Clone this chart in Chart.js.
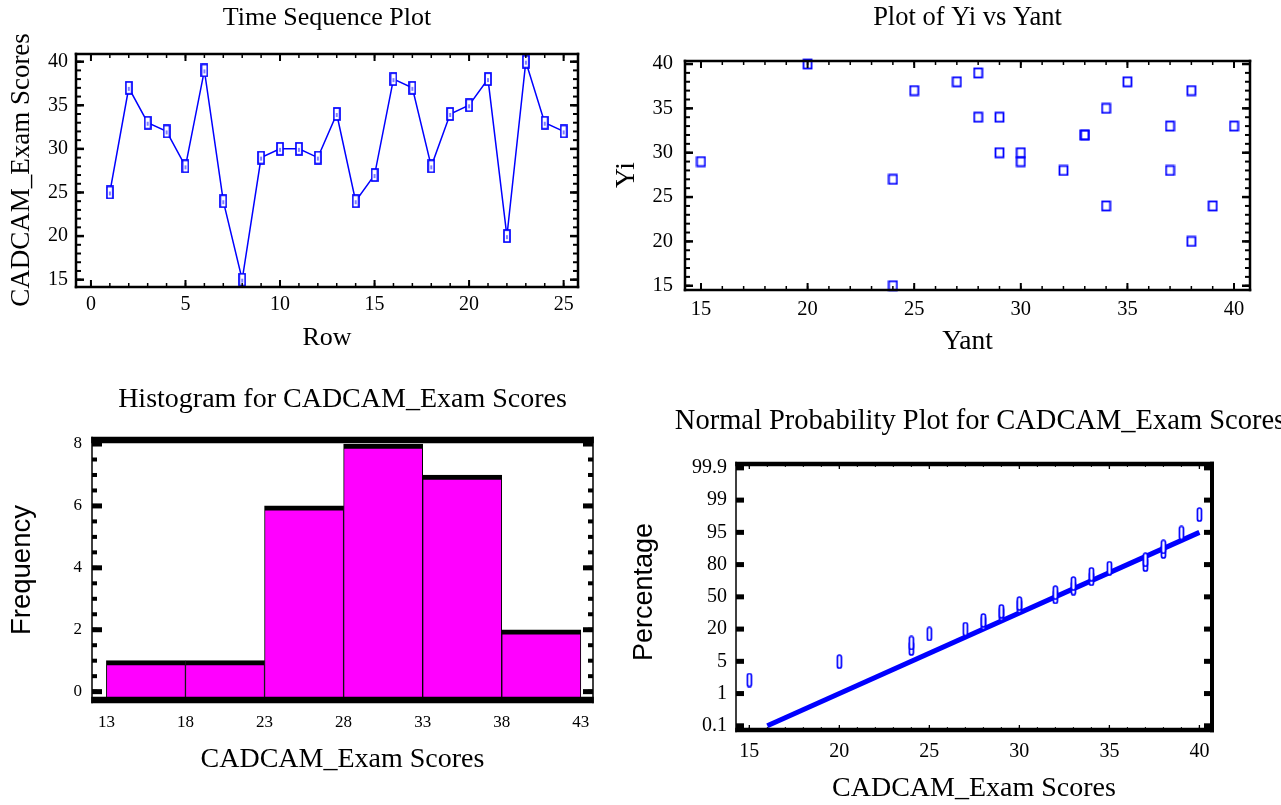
<!DOCTYPE html>
<html>
<head>
<meta charset="utf-8">
<script src="https://cdn.jsdelivr.net/npm/chart.js@4.4.1/dist/chart.umd.min.js"></script>
<style>
html, body { margin: 0; padding: 0; background: #fff; width: 1281px; height: 805px; overflow: hidden; }
canvas { position: absolute; }
</style>
</head>
<body>
<canvas id="seq" width="640" height="380" style="left:0;top:0"></canvas>
<canvas id="lag" width="681" height="380" style="left:600px;top:0"></canvas>
<canvas id="hist" width="620" height="435" style="left:0;top:370px"></canvas>
<canvas id="prob" width="760" height="435" style="left:600px;top:370px"></canvas>
<script>
// data
const rows = [1, 2, 3, 4, 5, 6, 7, 8, 9, 10, 11, 12, 13, 14, 15, 16, 17, 18, 19, 20, 21, 22, 23, 24, 25];
const scores = [25, 37, 33, 32, 28, 39, 24, 15, 29, 30, 30, 29, 34, 24, 27, 38, 37, 28, 34, 35, 38, 20, 40, 33, 32];
const yant = [25, 37, 33, 32, 28, 39, 24, 15, 29, 30, 30, 29, 34, 24, 27, 38, 37, 28, 34, 35, 38, 20, 40, 33];
const yi = [37, 33, 32, 28, 39, 24, 15, 29, 30, 30, 29, 34, 24, 27, 38, 37, 28, 34, 35, 38, 20, 40, 33, 32];
const binMids = [15.5, 20.5, 25.5, 30.5, 35.5, 40.5];
const binCounts = [1, 1, 6, 8, 7, 2];
const sortedScores = [15, 20, 24, 24, 25, 27, 28, 28, 29, 29, 30, 30, 32, 32, 33, 33, 34, 34, 35, 37, 37, 38, 38, 39, 40];
// position on the probability axis (0 = 0.1%, 8 = 99.9%)
const probPos = [1.42, 1.99, 2.40, 2.57, 2.85, 3.00, 3.19, 3.27, 3.47, 3.55, 3.71, 3.79, 4.00, 4.13, 4.27, 4.41, 4.56, 4.70, 4.89, 5.00, 5.15, 5.41, 5.55, 5.98, 6.55];
const fitX = [16, 40];
const fitPos = [0, 6];
const pctLabels = ['0.1', '1', '5', '20', '50', '80', '95', '99', '99.9'];

const seqTicksX = [0, 5, 10, 15, 20, 25];
const seqTicksY = [15, 20, 25, 30, 35, 40];
const lagTicksX = [15, 20, 25, 30, 35, 40];
const lagTicksY = [15, 20, 25, 30, 35, 40];
const histTicksX = [13, 18, 23, 28, 33, 38, 43];
const histTicksY = [0, 2, 4, 6, 8];
const probTicksX = [15, 20, 25, 30, 35, 40];
const probTicksY = [0, 1, 2, 3, 4, 5, 6, 7, 8];

const BLUE = '#0000ff';
const SERIF = 'Liberation Serif', SANS = 'Liberation Sans';
Chart.defaults.font.family = SERIF;
Chart.defaults.color = '#000';

function range(a, b, step) {
  const out = [];
  for (let v = a; v <= b + 1e-9; v += step) out.push(Math.round(v * 100) / 100);
  return out;
}

function mark(w, h, draw) {
  const c = document.createElement('canvas');
  c.width = w; c.height = h;
  const g = c.getContext('2d');
  g.strokeStyle = BLUE;
  draw(g);
  return c;
}
const seqMark = mark(8, 14, g => {
  g.fillStyle = '#fff'; g.fillRect(1, 1, 6, 12);
  g.lineWidth = 1.7; g.strokeRect(1, 1, 6, 12);
  g.lineWidth = 1; g.beginPath(); g.moveTo(4, 6); g.lineTo(4, 10); g.stroke();
});
const lagMark = mark(11, 12, g => { g.lineWidth = 1.8; g.strokeRect(1.5, 1.5, 8, 9); });
const probMark = mark(7, 15, g => {
  g.fillStyle = '#fff'; g.lineWidth = 1.7;
  g.beginPath(); g.roundRect(1.5, 1, 4, 13, 2); g.fill(); g.stroke();
});

const frames = {};
const framePlugin = {
  id: 'frame',
  afterDatasetsDraw(chart) {
    const f = frames[chart.canvas.id];
    const { ctx, chartArea: a } = chart;
    ctx.save();
    ctx.fillStyle = '#000';
    for (const t of f.ticks) {
      const sc = chart.scales[t.axis];
      for (const v of t.values) {
        const p = sc.getPixelForValue(v);
        for (const side of t.sides) {
          if (side === 'top') ctx.fillRect(p - t.w / 2, a.top, t.w, t.len);
          if (side === 'bottom') ctx.fillRect(p - t.w / 2, a.bottom - t.len, t.w, t.len);
          if (side === 'left') ctx.fillRect(a.left, p - t.w / 2, t.len, t.w);
          if (side === 'right') ctx.fillRect(a.right - t.len, p - t.w / 2, t.len, t.w);
        }
      }
    }
    const b = f.border;
    const x0 = a.left - b.left / 2, x1 = a.right + b.right / 2;
    const y0 = a.top - b.top / 2, y1 = a.bottom + b.bottom / 2;
    ctx.fillRect(x0, y0, x1 - x0, b.top);
    ctx.fillRect(x0, a.bottom - b.bottom / 2, x1 - x0, b.bottom);
    ctx.fillRect(x0, y0, b.left, y1 - y0);
    ctx.fillRect(a.right - b.right / 2, y0, b.right, y1 - y0);
    // vertical axis title
    ctx.translate(f.yTitleX - f.cx, f.yTitleY - f.cy);
    ctx.rotate(-Math.PI / 2);
    ctx.font = f.yf + 'px "' + (f.yTitleFont || SERIF) + '"';
    ctx.textAlign = 'center';
    ctx.textBaseline = 'middle';
    ctx.fillText(f.yTitle, 0, 0);
    ctx.restore();
  }
};

function build(id, s, type, datasets) {
  const tLH = s.tf * 1.2, aLH = s.af * 1.2;
  frames[id] = s;
  const scales = {
    x: {
      type: 'linear', min: s.xMin, max: s.xMax, offset: false,
      grid: { display: false, drawTicks: false }, border: { display: false },
      afterBuildTicks: sc => { sc.ticks = s.xTicks.map(v => ({ value: v })); },
      afterFit: sc => { sc.height = s.xTitleY + aLH / 2 - s.b; },
      ticks: { padding: s.xPad, font: { size: s.fs }, maxRotation: 0, autoSkip: false },
      title: { display: true, text: s.xTitle, font: { size: s.af }, padding: 0 }
    },
    y: {
      type: 'linear', min: s.yMin, max: s.yMax,
      grid: { display: false, drawTicks: false }, border: { display: false },
      afterBuildTicks: sc => { sc.ticks = s.yTicks.map(v => ({ value: v })); },
      afterFit: sc => { sc.width = s.l - s.cx; },
      ticks: { padding: s.yPad, font: { size: s.fs }, autoSkip: false, callback: s.yLabel || (v => v) }
    }
  };
  if (s.fullTitle) {
    scales.y2 = {
      type: 'linear', position: 'right',
      grid: { display: false, drawTicks: false }, border: { display: false },
      ticks: { display: false },
      afterFit: sc => { sc.width = s.cx + s.cw - s.r; }
    };
  }
  return new Chart(document.getElementById(id), {
    type: type,
    data: { datasets: datasets },
    options: {
      responsive: false, animation: false, devicePixelRatio: 1,
      layout: { padding: { left: 0, top: 0, right: s.fullTitle ? 0 : s.cx + s.cw - s.r, bottom: s.cy + s.ch - (s.xTitleY + aLH / 2) } },
      scales: scales,
      plugins: {
        legend: { display: false },
        tooltip: { enabled: false },
        title: {
          display: true, text: s.title, fullSize: !!s.fullTitle,
          font: { size: s.tf, weight: 'normal' },
          padding: { top: s.titleY - s.cy - tLH / 2, bottom: s.t - s.titleY - tLH / 2 }
        }
      }
    },
    plugins: [framePlugin]
  });
}

// Time sequence plot
build('seq', {
  cx: 0, cy: 0, cw: 640, ch: 380, l: 76, t: 54, r: 578, b: 287,
  xMin: -0.79, xMax: 25.76, yMin: 14.16, yMax: 40.88, xTicks: seqTicksX, yTicks: seqTicksY,
  title: 'Time Sequence Plot', titleY: 18, xTitle: 'Row', xTitleY: 338,
  yTitle: 'CADCAM_Exam Scores', yTitleX: 22, yTitleY: 170,
  tf: 26, af: 26, yf: 27, fs: 20, xPad: 6, yPad: 8,
  border: { top: 2.5, right: 2.5, bottom: 2.5, left: 2.5 },
  ticks: [
    { axis: 'x', values: range(0, 25, 1), len: 4, w: 1.5, sides: ['top', 'bottom'] },
    { axis: 'x', values: seqTicksX, len: 7, w: 2, sides: ['top', 'bottom'] },
    { axis: 'y', values: range(15, 40, 1), len: 5, w: 2, sides: ['left', 'right'] },
    { axis: 'y', values: seqTicksY, len: 8, w: 2.5, sides: ['left', 'right'] }
  ]
}, 'line', [{
  data: rows.map((r, i) => ({ x: r, y: scores[i] })),
  borderColor: BLUE, borderWidth: 1.5, tension: 0,
  pointStyle: seqMark, pointRadius: 6, clip: false
}]);

// Plot of Yi vs Yant
build('lag', {
  cx: 600, cy: 0, cw: 681, ch: 380, l: 685, t: 61, r: 1250, b: 290,
  xMin: 14.25, xMax: 40.75, yMin: 14.52, yMax: 40.34, xTicks: lagTicksX, yTicks: lagTicksY,
  title: 'Plot of Yi vs Yant', titleY: 18, xTitle: 'Yant', xTitleY: 342,
  yTitle: 'Yi', yTitleX: 627, yTitleY: 175,
  tf: 26.5, af: 27.5, yf: 27.5, fs: 20.5, xPad: 7, yPad: 12,
  border: { top: 2.5, right: 2.5, bottom: 2.5, left: 2.5 },
  ticks: [
    { axis: 'x', values: range(15, 40, 1), len: 4, w: 1.5, sides: ['top', 'bottom'] },
    { axis: 'x', values: lagTicksX, len: 7, w: 2, sides: ['top', 'bottom'] },
    { axis: 'y', values: range(15, 40, 1), len: 5, w: 2, sides: ['left', 'right'] },
    { axis: 'y', values: lagTicksY, len: 8, w: 2.5, sides: ['left', 'right'] }
  ]
}, 'scatter', [{
  data: yant.map((v, i) => ({ x: v, y: yi[i] })),
  pointStyle: lagMark, pointRadius: 5, clip: false
}]);

// Histogram
const histYMin = -0.27;
build('hist', {
  cx: 0, cy: 370, cw: 620, ch: 435, l: 92, t: 440, r: 593, b: 700,
  xMin: 12.09, xMax: 43.77, yMin: histYMin, yMax: 8.13, xTicks: histTicksX, yTicks: histTicksY,
  title: 'Histogram for CADCAM_Exam Scores', titleY: 400, xTitle: 'CADCAM_Exam Scores', xTitleY: 760,
  yTitle: 'Frequency', yTitleFont: SANS, yTitleX: 22, yTitleY: 570,
  tf: 28, af: 28, yf: 27.5, fs: 17, xPad: 12, yPad: 10,
  border: { top: 6.5, right: 1.5, bottom: 6.5, left: 1.5 },
  ticks: [
    { axis: 'y', values: range(0, 8, 0.5), len: 5, w: 4, sides: ['left', 'right'] },
    { axis: 'y', values: histTicksY, len: 10, w: 5, sides: ['left', 'right'] }
  ]
}, 'bar', [{
  data: binMids.map((m, i) => ({ x: m, y: binCounts[i] })),
  backgroundColor: '#ff00ff', borderColor: '#000',
  borderWidth: { top: 5, left: 1, right: 1, bottom: 0 },
  barPercentage: 1, categoryPercentage: 1, base: histYMin
}]);

// Normal probability plot
build('prob', {
  cx: 600, cy: 370, cw: 760, ch: 435, l: 736, t: 464, r: 1212, b: 730, fullTitle: true,
  xMin: 14.26, xMax: 40.7, yMin: -0.13, yMax: 8.12, xTicks: probTicksX, yTicks: probTicksY,
  yLabel: v => pctLabels[v],
  title: 'Normal Probability Plot for CADCAM_Exam Scores', titleY: 422, xTitle: 'CADCAM_Exam Scores', xTitleY: 789,
  yTitle: 'Percentage', yTitleFont: SANS, yTitleX: 645, yTitleY: 592,
  tf: 28.5, af: 28, yf: 27, fs: 20, xPad: 10, yPad: 9,
  border: { top: 4.5, right: 4, bottom: 4.5, left: 1.5 },
  ticks: [
    { axis: 'x', values: range(15, 40, 1), len: 3, w: 1, sides: ['top', 'bottom'] },
    { axis: 'x', values: probTicksX, len: 5, w: 1.3, sides: ['top', 'bottom'] },
    { axis: 'y', values: probTicksY, len: 8, w: 5, sides: ['left', 'right'] }
  ]
}, 'scatter', [{
  type: 'scatter',
  data: sortedScores.map((x, i) => ({ x: x, y: probPos[i] })),
  pointStyle: probMark, pointRadius: 6, clip: false
}, {
  type: 'line',
  data: fitX.map((x, i) => ({ x: x, y: fitPos[i] })),
  borderColor: BLUE, borderWidth: 5, pointRadius: 0, borderCapStyle: 'butt'
}]);
</script>
</body>
</html>
